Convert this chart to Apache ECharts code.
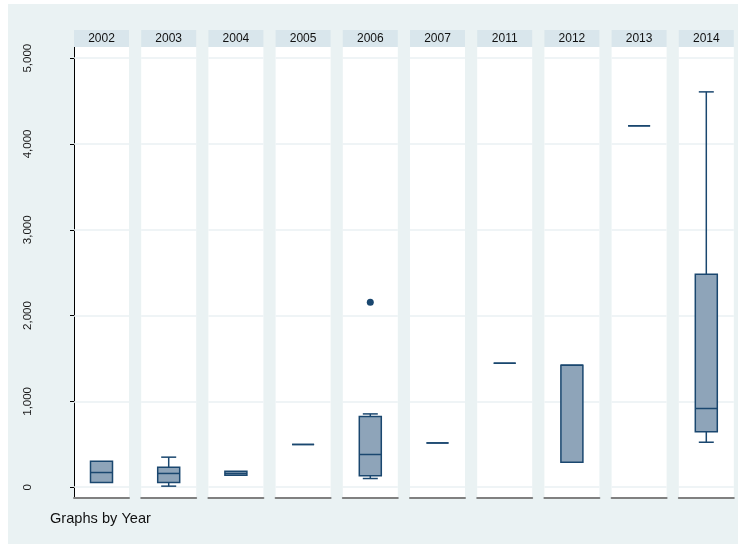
<!DOCTYPE html>
<html>
<head>
<meta charset="utf-8">
<title>Box plots by year</title>
<script src="https://cdn.jsdelivr.net/npm/echarts@6/dist/echarts.min.js"></script>
<style>
  html, body { margin: 0; padding: 0; background: #ffffff; }
  #chart { width: 746px; height: 548px; }
</style>
</head>
<body>
<div id="chart"></div>
<script>
// Panel categories
const years = ['2002', '2003', '2004', '2005', '2006', '2007', '2011', '2012', '2013', '2014'];

// Box plot statistics per year
const lowerAdjacent = [55, 12, 140, 498, 101, 516, 1445, 291, 4211, 524];
const lowerQuartile = [55, 55, 140, 498, 132, 516, 1445, 291, 4211, 645];
const medians       = [171, 160, 160, 498, 381, 516, 1445, 1422, 4211, 917];
const upperQuartile = [303, 233, 186, 498, 824, 516, 1445, 1422, 4211, 2483];
const upperAdjacent = [303, 350, 186, 498, 854, 516, 1445, 1422, 4211, 4607];

// Outside values: [year, value]
const outsideValues = [['2006', 2156]];

// Value axis ticks
const yTicks = [0, 1000, 2000, 3000, 4000, 5000];
const yMin = -126;
const yMax = 5130;

const FONT = "'Liberation Sans', Arial, sans-serif";
const NAVY = '#1a476f';
const BOX_FILL = '#8ea4b9';
const PLOT_BG = '#eaf2f3';

const panelLeft = 74;
const panelStep = 67.2;
const panelWidth = 55;
const panelTop = 47;
const panelBottom = 498;

const chart = echarts.init(document.getElementById('chart'), null, { renderer: 'canvas' });

const grids = [];
const xAxes = [];
const yAxes = [];
const series = [];

years.forEach((year, i) => {
  grids.push({
    left: panelLeft + i * panelStep,
    top: panelTop,
    width: panelWidth,
    height: panelBottom - panelTop,
    show: true,
    backgroundColor: '#ffffff',
    borderWidth: 0
  });
});

// bottom axes (0..9)
years.forEach((year, i) => {
  xAxes.push({
    type: 'category',
    gridIndex: i,
    position: 'bottom',
    data: [year],
    axisLine: { show: true, onZero: false, lineStyle: { color: '#808080', width: 2 } },
    axisTick: { show: false },
    axisLabel: { show: false },
    splitLine: { show: false }
  });
});

// top axes carrying the panel title strips (10..19)
years.forEach((year, i) => {
  xAxes.push({
    type: 'category',
    gridIndex: i,
    position: 'top',
    data: [year],
    name: '{strip|' + year + '}',
    nameLocation: 'middle',
    nameGap: 0,
    nameTextStyle: {
      align: 'center',
      verticalAlign: 'bottom',
      rich: {
        strip: {
          fontFamily: FONT,
          fontSize: 12,
          color: '#111111',
          backgroundColor: '#d9e6ec',
          width: panelWidth,
          height: 17,
          lineHeight: 17,
          align: 'center',
          verticalAlign: 'middle'
        }
      }
    },
    axisLine: { show: false },
    axisTick: { show: false },
    axisLabel: { show: false },
    splitLine: { show: false }
  });
});

years.forEach((year, i) => {
  const first = i === 0;
  yAxes.push({
    type: 'value',
    gridIndex: i,
    min: yMin,
    max: yMax,
    axisLine: { show: first, lineStyle: { color: '#000000', width: 1 } },
    axisTick: {
      show: first,
      length: 4,
      customValues: yTicks,
      lineStyle: { color: '#000000', width: 1 }
    },
    axisLabel: {
      show: first,
      rotate: 90,
      margin: 40,
      customValues: yTicks,
      fontFamily: FONT,
      fontSize: 11.5,
      color: '#1a1a1a',
      formatter: v => v.toLocaleString('en-US')
    },
    splitLine: { show: false }
  });
});

// grid lines at each tick value, kept beneath the boxes
years.forEach((year, i) => {
  series.push({
    type: 'line',
    xAxisIndex: i,
    yAxisIndex: i,
    data: [],
    silent: true,
    z: 1,
    markLine: {
      silent: true,
      z: 1,
      symbol: 'none',
      animation: false,
      label: { show: false },
      lineStyle: { color: '#eaf1f3', width: 1.5, type: 'solid' },
      data: yTicks.map(v => ({ yAxis: v }))
    }
  });
});

// box, whiskers and median drawn per panel
function renderBox(params, api) {
  const cat = api.value(0);
  const pt = v => api.coord([cat, v]);
  const x = pt(api.value(3))[0];
  const yLo = pt(api.value(1))[1];
  const yQ1 = pt(api.value(2))[1];
  const yMed = pt(api.value(3))[1];
  const yQ3 = pt(api.value(4))[1];
  const yHi = pt(api.value(5))[1];
  const half = 11;
  const cap = 7.5;
  const line = { stroke: NAVY, lineWidth: 1.5 };
  const children = [];
  if (yHi < yQ3 - 0.5) {
    children.push({ type: 'line', shape: { x1: x, y1: yQ3, x2: x, y2: yHi }, style: line });
    children.push({ type: 'line', shape: { x1: x - cap, y1: yHi, x2: x + cap, y2: yHi }, style: line });
  }
  if (yLo > yQ1 + 0.5) {
    children.push({ type: 'line', shape: { x1: x, y1: yQ1, x2: x, y2: yLo }, style: line });
    children.push({ type: 'line', shape: { x1: x - cap, y1: yLo, x2: x + cap, y2: yLo }, style: line });
  }
  children.push({
    type: 'rect',
    shape: { x: x - half, y: yQ3, width: half * 2, height: yQ1 - yQ3 },
    style: { fill: BOX_FILL, stroke: NAVY, lineWidth: 1.5 }
  });
  children.push({ type: 'line', shape: { x1: x - half, y1: yMed, x2: x + half, y2: yMed }, style: line });
  return { type: 'group', children };
}

years.forEach((year, i) => {
  series.push({
    type: 'custom',
    xAxisIndex: i,
    yAxisIndex: i,
    z: 10,
    renderItem: renderBox,
    encode: { x: 0, y: [1, 2, 3, 4, 5] },
    data: [[year, lowerAdjacent[i], lowerQuartile[i], medians[i], upperQuartile[i], upperAdjacent[i]]]
  });
});

outsideValues.forEach(([year, value]) => {
  const i = years.indexOf(year);
  series.push({
    type: 'scatter',
    xAxisIndex: i,
    yAxisIndex: i,
    z: 11,
    symbol: 'circle',
    symbolSize: 7,
    itemStyle: { color: NAVY, opacity: 1 },
    data: [[year, value]]
  });
});

chart.setOption({
  animation: false,
  backgroundColor: '#ffffff',
  textStyle: { fontFamily: FONT },
  graphic: [
    {
      type: 'rect',
      z: -10,
      silent: true,
      shape: { x: 8, y: 4, width: 730, height: 540 },
      style: { fill: PLOT_BG }
    },
    {
      type: 'text',
      left: 50,
      top: 511,
      silent: true,
      style: { text: 'Graphs by Year', fontFamily: FONT, fontSize: 14.6, fill: '#111111' }
    }
  ],
  grid: grids,
  xAxis: xAxes,
  yAxis: yAxes,
  series: series
});
</script>
</body>
</html>
